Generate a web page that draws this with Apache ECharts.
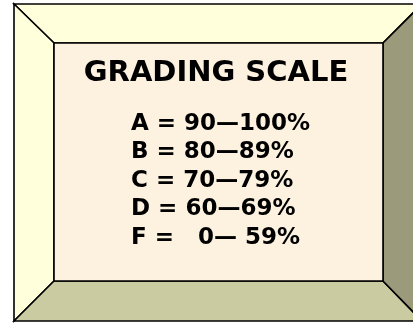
<!DOCTYPE html>
<html><head><meta charset="utf-8">
<script src="https://cdn.jsdelivr.net/npm/echarts@6/dist/echarts.min.js"></script>
<style>html,body{margin:0;padding:0;background:#fff;}#c{width:413px;height:323px;}</style>
</head><body><div id="c"></div>
<script>
var title = 'GRADING SCALE';
var grades = ['A', 'B', 'C', 'D', 'F'];
var lows = ['90', '80', '70', '60', '  0'];
var highs = ['100', '89', '79', '69', ' 59'];

var chart = echarts.init(document.getElementById('c'), null, {renderer: 'canvas'});
var O = {l: 14, t: 4, r: 422, b: 321};
var I = {l: 54, t: 43, r: 383, b: 281};
var lineStyle = {stroke: '#000', lineWidth: 1.6, lineJoin: 'miter'};
function poly(pts, fill) {
  return {type: 'polygon', shape: {points: pts}, style: Object.assign({fill: fill}, lineStyle)};
}
var els = [
  poly([[O.l,O.t],[O.r,O.t],[I.r,I.t],[I.l,I.t]], '#FFFFDC'),
  poly([[O.l,O.t],[I.l,I.t],[I.l,I.b],[O.l,O.b]], '#FFFFDC'),
  poly([[O.l,O.b],[I.l,I.b],[I.r,I.b],[O.r,O.b]], '#CBCBA1'),
  poly([[O.r,O.t],[I.r,I.t],[I.r,I.b],[O.r,O.b]], '#9B9A7A'),
  {type: 'rect', shape: {x: I.l, y: I.t, width: I.r - I.l, height: I.b - I.t}, style: Object.assign({fill: '#FCF2DF'}, lineStyle)},
  {type: 'text', x: 216, y: 73, style: {text: title, fill: '#000', font: 'bold 29px "DejaVu Sans"', align: 'center', verticalAlign: 'middle'}}
];
grades.forEach(function (g, i) {
  els.push({type: 'text', x: 131, y: 124 + i * 28.5,
    style: {text: g + ' = ' + lows[i] + '\u2014' + highs[i] + '%', fill: '#000', font: 'bold 23px "DejaVu Sans"', align: 'left', verticalAlign: 'middle'}});
});
chart.setOption({animation: false, graphic: {elements: els}});
</script></body></html>
